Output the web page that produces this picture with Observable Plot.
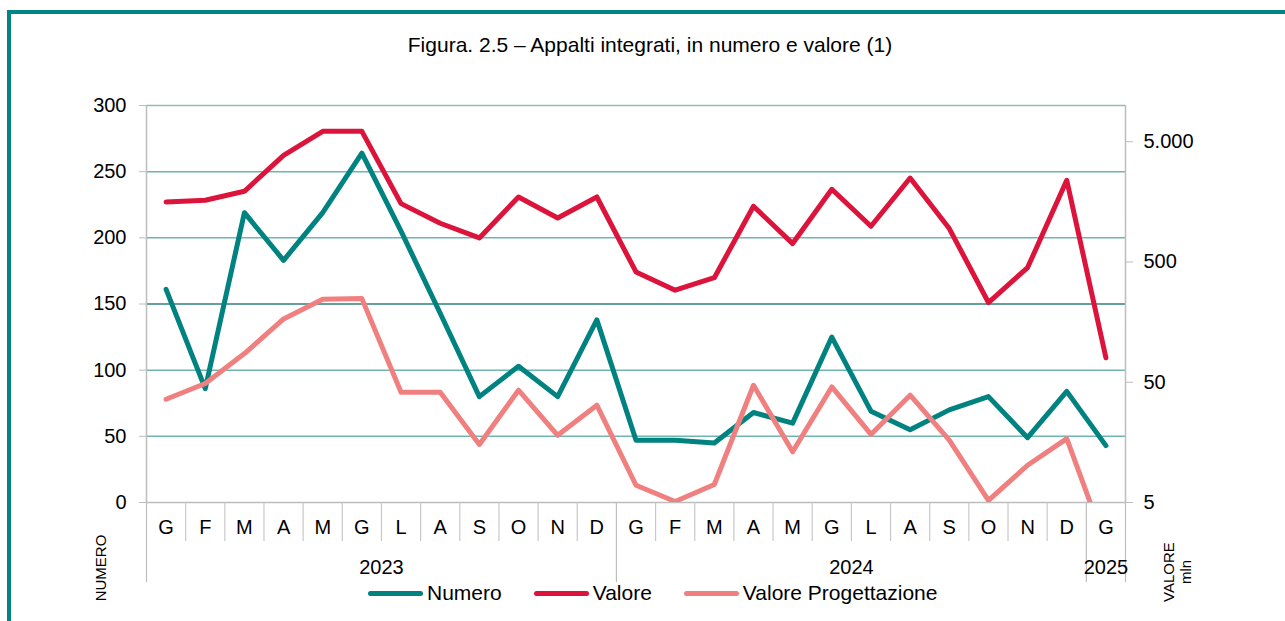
<!DOCTYPE html>
<html>
<head>
<meta charset="utf-8">
<script src="https://cdn.jsdelivr.net/npm/d3@7"></script>
<script src="https://cdn.jsdelivr.net/npm/@observablehq/plot@0.6"></script>
<style>
  html, body { margin: 0; padding: 0; background: #fff; }
  body { font-family: "Liberation Sans", Arial, sans-serif; }
  #wrap { position: relative; width: 1285px; height: 621px; overflow: hidden; background: #fff; }
  #wrap svg { position: absolute; left: 0; top: 0; }
  .bTop { position: absolute; left: 7px; top: 10px; width: 1278px; height: 4px; background: #008583; }
  .bLeft { position: absolute; left: 7px; top: 10px; width: 4px; height: 611px; background: #008583; }
  #title { position: absolute; left: 0; width: 1300px; top: 33px; text-align: center; font-size: 21px; color: #000; }
  #legend { position: absolute; left: 368px; top: 581px; display: flex; align-items: center; gap: 32px; font-size: 21px; color: #000; }
  .item { display: flex; align-items: center; gap: 4px; }
  .sw { width: 55px; height: 5px; border-radius: 3px; }
  .vt { position: absolute; font-size: 15px; color: #000; transform: translate(-50%, -50%) rotate(-90deg); white-space: nowrap; text-align: center; line-height: 17px; }
</style>
</head>
<body>
<div id="wrap">
  <div class="bTop"></div>
  <div class="bLeft"></div>
  <div id="title">Figura. 2.5 – Appalti integrati, in numero e valore (1)</div>
  <div id="legend"></div>
  <div class="vt" style="left:100px; top:568px;">NUMERO</div>
  <div class="vt" style="left:1177px; top:572px;">VALORE<br>mln</div>
</div>
<script>
// ---- data ----
const months = ["G","F","M","A","M","G","L","A","S","O","N","D",
                "G","F","M","A","M","G","L","A","S","O","N","D",
                "G"];
const years = ["2023", "2024", "2025"];
const monthsPerYear = [12, 12, 1];
const numero = [161, 86, 219, 183, 219, 264, 205, 143, 80, 103, 80, 138,
                47, 47, 45, 68, 60, 125, 69, 55, 70, 80, 49, 84,
                43];
const valore = [1577, 1630, 1935, 3855, 6100, 6100, 1528, 1049, 792, 1735, 1161, 1735,
                413, 291, 370, 1452, 711, 2010, 991, 2494, 948, 230, 449, 2388,
                80];
const valoreProgettazione = [36.1, 48.8, 86.6, 168, 245, 248, 41.3, 41.3, 15.2, 42.9, 18.1, 32.2,
                             6.96, 5.1, 7.06, 47.2, 13.2, 45.7, 18.4, 39.0, 16.5, 5.2, 10.2, 17.0,
                             2.2];
const leftTicks = [0, 50, 100, 150, 200, 250, 300];
const gridValues = [50, 100, 150, 200, 250, 300];
const rightTicks = [5, 50, 500, 5000];
const rightTickLabels = ["5", "50", "500", "5.000"];
const seriesNames = ["Numero", "Valore", "Valore Progettazione"];

// ---- styles ----
const colors = {"Numero": "#008380", "Valore": "#DC143C", "Valore Progettazione": "#F08080"};
const gridColor = d => d === 150 ? "#2f7f7b" : d === 300 ? "#97b8b6" : "#6fb6b1";
const axisGray = "#bdbdbd";

// secondary (log) axis mapped onto the primary 0..300 range
const logMap = d3.scaleLog().domain([5, 10000]).range([0, 300]);

const rows = months.map((m, i) => ({
  i, month: m,
  numero: numero[i],
  valore: logMap(valore[i]),
  prog: logMap(valoreProgettazione[i])
}));

// year groups
let start = 0;
const yearRows = years.map((y, k) => {
  const r = {year: y, start, end: start + monthsPerYear[k]};
  start += monthsPerYear[k];
  return r;
});
const monthSeps = d3.range(1, months.length).filter(b => !yearRows.some(r => r.start === b));
const yearSeps = [0, ...yearRows.map(r => r.end)];

const pxPerUnit = 397 / 300;
const monthSepLen = 39 / pxPerUnit;
const yearSepLen = 80 / pxPerUnit;

const chart = Plot.plot({
  width: 1285,
  height: 621,
  marginTop: 105,
  marginBottom: 119,
  marginLeft: 146,
  marginRight: 160,
  x: {domain: [-0.5, months.length - 0.5], axis: null},
  y: {domain: [0, 300], axis: null},
  style: {fontFamily: "'Liberation Sans', Arial, sans-serif", fontSize: "20px", background: "transparent", color: "#000"},
  marks: [
    Plot.ruleY(gridValues, {y: d => d, stroke: gridColor, strokeWidth: 1.5}),
    Plot.ruleY([0], {stroke: axisGray, strokeWidth: 1.5}),
    Plot.ruleX([-0.5, months.length - 0.5], {stroke: axisGray, strokeWidth: 1.5}),
    Plot.ruleX(monthSeps, {x: d => d - 0.5, y1: 0, y2: -monthSepLen, stroke: "#c8c8c8", strokeWidth: 1.2}),
    Plot.ruleX(yearSeps, {x: d => d - 0.5, y1: 0, y2: -yearSepLen, stroke: axisGray, strokeWidth: 1.2}),
    Plot.axisY({anchor: "left", ticks: leftTicks, tickSize: 7, tickPadding: 13, stroke: axisGray, fill: "#000", fontSize: 20, tickFormat: d => d}),
    Plot.axisY({anchor: "right", ticks: rightTicks.map(v => logMap(v)), tickSize: 7, tickPadding: 11, stroke: axisGray, fill: "#000", fontSize: 20,
      tickFormat: d => rightTickLabels[rightTicks.findIndex(v => Math.abs(logMap(v) - d) < 1e-9)]}),
    Plot.text(rows, {x: "i", y: 0, dy: 25, text: "month", fontSize: 20, fill: "#000"}),
    Plot.text(yearRows, {x: d => (d.start + d.end - 1) / 2, y: 0, dy: 65, text: "year", fontSize: 20, fill: "#000"}),
    Plot.line(rows, {x: "i", y: "numero", stroke: colors["Numero"], strokeWidth: 5, strokeLinejoin: "round", strokeLinecap: "round"}),
    Plot.line(rows, {x: "i", y: "valore", stroke: colors["Valore"], strokeWidth: 5, strokeLinejoin: "round", strokeLinecap: "round"}),
    Plot.line(rows, {x: "i", y: "prog", stroke: colors["Valore Progettazione"], strokeWidth: 5, strokeLinejoin: "round", strokeLinecap: "round", clip: true})
  ]
});
document.getElementById("wrap").appendChild(chart);

const legend = document.getElementById("legend");
seriesNames.forEach(name => {
  const it = document.createElement("div");
  it.className = "item";
  const sw = document.createElement("div");
  sw.className = "sw";
  sw.style.background = colors[name];
  const t = document.createElement("span");
  t.textContent = name;
  it.appendChild(sw); it.appendChild(t);
  legend.appendChild(it);
});
</script>
</body>
</html>
